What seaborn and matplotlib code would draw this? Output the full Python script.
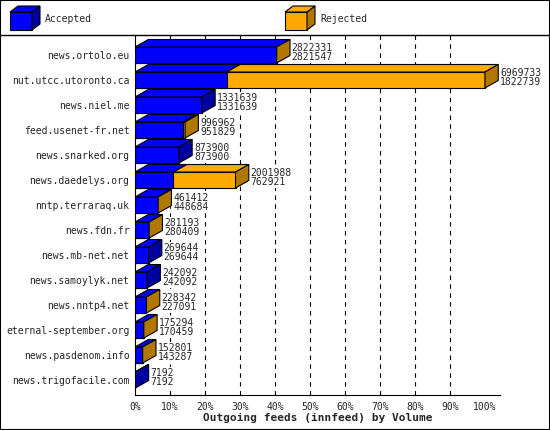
import matplotlib
matplotlib.use("Agg")
import matplotlib.pyplot as plt
import seaborn as sns
from matplotlib.patches import Polygon, Rectangle
from matplotlib.lines import Line2D

hosts = ["news.ortolo.eu", "nut.utcc.utoronto.ca", "news.niel.me", "feed.usenet-fr.net",
         "news.snarked.org", "news.daedelys.org", "nntp.terraraq.uk", "news.fdn.fr",
         "news.mb-net.net", "news.samoylyk.net", "news.nntp4.net", "eternal-september.org",
         "news.pasdenom.info", "news.trigofacile.com"]
offered = [2822331, 6969733, 1331639, 996962, 873900, 2001988, 461412, 281193,
           269644, 242092, 228342, 175294, 152801, 7192]
accepted = [2821547, 1822739, 1331639, 951829, 873900, 762921, 448684, 280409,
            269644, 242092, 227091, 170459, 143287, 7192]
ticks = [0, 10, 20, 30, 40, 50, 60, 70, 80, 90, 100]

sns.set_theme(style="white")
plt.rcParams["font.family"] = ["DejaVu Sans Mono"]
W, H = 550, 430
fig = plt.figure(figsize=(W/100, H/100), dpi=100)
ax = fig.add_axes([135/W, 35/H, 365/W, 360/H])
mx = max(offered)
pa = [a / mx * 100 for a in accepted]
po = [o / mx * 100 for o in offered]
n = len(hosts)
ys = list(range(n))
BLUE, ORANGE = "#0000ff", "#ffaa00"
BLUE_D, ORANGE_D = "#0000a0", "#b07800"
h = 0.64
dx, dy = 3.8, 0.3

sns.barplot(x=po, y=hosts, orient="h", color=ORANGE, ax=ax, width=h,
            edgecolor="black", linewidth=0.8, saturation=1)
sns.barplot(x=pa, y=hosts, orient="h", color=BLUE, ax=ax, width=h,
            edgecolor="black", linewidth=0.8, saturation=1)

for i in ys:
    yt = i - h / 2
    yb = i + h / 2
    for x0, x1, top, side in [(pa[i], po[i], ORANGE, ORANGE_D), (0, pa[i], BLUE, BLUE_D)]:
        if x1 - x0 <= 0:
            continue
        ax.add_patch(Polygon([(x0, yt), (x1, yt), (x1 + dx, yt - dy), (x0 + dx, yt - dy)],
                             closed=True, fc=top, ec="black", lw=0.8, zorder=3))
    xe = po[i]
    col = ORANGE_D if po[i] > pa[i] + 0.01 else BLUE_D
    ax.add_patch(Polygon([(xe, yt), (xe + dx, yt - dy), (xe + dx, yb - dy), (xe, yb)],
                         closed=True, fc=col, ec="black", lw=0.8, zorder=3))
    ax.text(xe + dx + 0.5, i - 0.1, f"{offered[i]}\n{accepted[i]}", fontsize=7,
            va="center", ha="left", linespacing=0.95, zorder=4,
            bbox=dict(fc="white", ec="none", pad=0.3))

for t in ticks[1:-1]:
    ax.axvline(t, color="black", ls=(0, (4, 4)), lw=0.8, zorder=0)
ax.set_xlim(0, 104.3)
ax.set_ylim(n - 0.4, -0.8)
ax.set_xticks(ticks)
ax.set_xticklabels([f"{t}%" for t in ticks], fontsize=7)
ax.tick_params(axis="y", labelsize=7, length=0, pad=4)
ax.tick_params(axis="x", length=3, pad=2)
ax.set_xlabel("Outgoing feeds (innfeed) by Volume", fontsize=8, fontweight="bold", labelpad=1)
ax.set_ylabel("")
for s in ["top", "right"]:
    ax.spines[s].set_visible(False)
for s in ["left", "bottom"]:
    ax.spines[s].set_color("black")
    ax.spines[s].set_linewidth(0.8)

# legend
for x0, c, cd, lab in [(10, BLUE, BLUE_D, "Accepted"), (285, ORANGE, ORANGE_D, "Rejected")]:
    fig.add_artist(Rectangle((x0/W, (H-30)/H), 22/W, 18/H, fc=c, ec="black", lw=0.8))
    fig.add_artist(Polygon([((x0+22)/W, (H-30)/H), ((x0+30)/W, (H-24)/H), ((x0+30)/W, (H-6)/H),
                            ((x0+22)/W, (H-12)/H)], closed=True, fc=cd, ec="black", lw=0.8))
    fig.add_artist(Polygon([(x0/W, (H-12)/H), ((x0+22)/W, (H-12)/H), ((x0+30)/W, (H-6)/H),
                            ((x0+8)/W, (H-6)/H)], closed=True, fc=c, ec="black", lw=0.8))
    fig.text((x0+35)/W, (H-19)/H, lab, fontsize=7, va="center")
fig.add_artist(Line2D([0, 1], [(H-35)/H]*2, color="black", lw=1))
fig.add_artist(Rectangle((0, 0), 1, 1, fill=False, ec="black", lw=1.5))
fig.savefig("out.png", dpi=100)
